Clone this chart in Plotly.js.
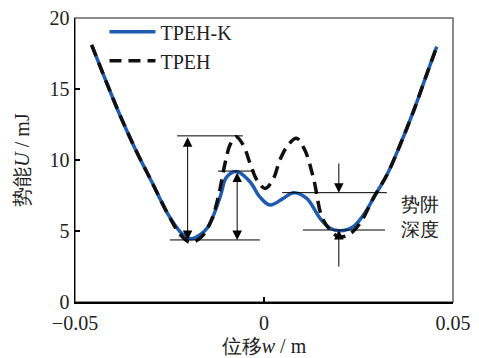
<!DOCTYPE html>
<html>
<head>
<meta charset="utf-8">
<script src="https://cdn.plot.ly/plotly-3.0.1.min.js"></script>
<style>html,body{margin:0;padding:0;background:#fff;}#chart{width:479px;height:358px;}</style>
</head>
<body>
<div id="chart"></div>
<script>
// TPEH-K (solid blue)
const kX = [-0.0456,-0.0421,-0.0385,-0.0341,-0.0297,-0.0253,-0.0218,-0.0193,-0.0170,-0.0148,-0.0116,-0.0099,-0.0071,-0.0037,-0.0011,0.0016,0.0051,0.0078,0.0113,0.0148,0.0175,0.0201,0.0236,0.0272,0.0289,0.0325,0.0360,0.0395,0.0430,0.0457];
const kY = [18.1,15.75,13.4,10.8,8.47,6.13,4.84,4.45,4.72,5.28,7.4,8.8,9.18,8.47,7.4,6.83,7.3,7.7,7.3,5.9,5.19,5.02,5.3,6.48,7.3,8.94,11.06,13.4,16.0,17.98];
// TPEH (dashed black)
const tX = [-0.0456,-0.0421,-0.0385,-0.0341,-0.0297,-0.0253,-0.0220,-0.0195,-0.0165,-0.0139,-0.0121,-0.0103,-0.0090,-0.0074,-0.0055,-0.0037,-0.0019,0.0003,0.0025,0.0042,0.0064,0.0086,0.0108,0.0131,0.0153,0.0175,0.0197,0.0223,0.0254,0.0289,0.0325,0.0360,0.0395,0.0430,0.0457];
const tY = [18.1,15.75,13.4,10.8,8.47,6.13,4.7,4.2,4.6,5.77,7.4,9.77,11.06,11.64,11.06,9.77,8.6,8.0,8.7,10.0,11.06,11.53,10.7,8.7,6.0,5.07,4.6,4.72,5.54,7.3,8.94,11.06,13.4,16.0,17.98];
const seriesNames = ["TPEH-K", "TPEH"];
const xTicks = [-0.05, 0, 0.05];
const xTickText = ['\u22120.05', '0', '0.05'];
const yTicks = [0, 5, 10, 15, 20];

const FONT = "Liberation Serif";

// guide lines (annotation geometry)
const guides = [
  {x0:-0.0230, x1:-0.0056, y:11.7},
  {x0:-0.0249, x1:-0.0011, y:4.37},
  {x0:-0.0122, x1:-0.0024, y:9.22},
  {x0:0.0048, x1:0.0325, y:7.7},
  {x0:0.0103, x1:0.0320, y:5.07}
];
const shapes = guides.map(g => ({type:'line', xref:'x', yref:'y', x0:g.x0, x1:g.x1, y0:g.y, y1:g.y, line:{color:'#000', width:1}}));
shapes.push({type:'rect', xref:'paper', yref:'paper', x0:0, x1:1, y0:0, y1:1, line:{color:'#666', width:1.5}, layer:'below'});

function arrow(x, yTip, yTail, both) {
  return {x:x, y:yTip, ax:x, ay:yTail, xref:'x', yref:'y', axref:'x', ayref:'y',
    text:'', showarrow:true, arrowhead:2, startarrowhead:2, arrowsize:1.9, startarrowsize:1.9, arrowwidth:1, arrowcolor:'#000',
    arrowside: both ? 'end+start' : 'end', standoff:0, startstandoff:0};
}
const annotations = [
  arrow(-0.0202, 4.37, 11.7, true),
  arrow(-0.0071, 4.37, 9.22, true),
  arrow(0.0198, 7.7, 9.86, false),
  arrow(0.0198, 5.07, 2.39, false),
  {x:0.0413, y:6.0, xref:'x', yref:'y', text:'势阱<br>深度', showarrow:false, font:{family:FONT, size:19, color:'#222'}}
];

const data = [
  {x:kX, y:kY, name:seriesNames[0], mode:'lines', line:{color:'#1f5cb0', width:3.5, shape:'spline', smoothing:1}},
  {x:tX, y:tY, name:seriesNames[1], mode:'lines', line:{color:'#111', width:3.5, dash:'12px,7px', shape:'spline', smoothing:1}}
];

const layout = {
  width:479, height:358,
  margin:{l:75, r:26, t:18, b:56},
  paper_bgcolor:'#fff', plot_bgcolor:'#fff',
  font:{family:FONT, size:20, color:'#222'},
  showlegend:true,
  legend:{x:0.078, y:1.02, xanchor:'left', yanchor:'top', bgcolor:'rgba(0,0,0,0)', font:{family:FONT, size:20, color:'#222'}, itemwidth:46, tracegroupgap:0},
  xaxis:{range:[-0.05,0.05], tickvals:xTicks, ticktext:xTickText, ticks:'inside', ticklen:5, tickwidth:1.2, tickcolor:'#000',
    showline:true, linecolor:'#000', linewidth:1.5, mirror:false, showgrid:false, zeroline:false,
    tickfont:{family:FONT, size:20, color:'#222'}, ticklabelstandoff:2,
    title:{text:'位移<i>w</i> / m', font:{family:FONT, size:20, color:'#222'}, standoff:6}, automargin:false},
  yaxis:{range:[0,20], tickvals:yTicks, ticks:'inside', ticklen:5, tickwidth:1.2, tickcolor:'#000',
    showline:true, linecolor:'#000', linewidth:1.5, mirror:false, showgrid:false, zeroline:false,
    tickfont:{family:FONT, size:20, color:'#222'},
    title:{text:'势能<i>U</i> / mJ', font:{family:FONT, size:20, color:'#222'}, standoff:14}, automargin:false},
  shapes:shapes,
  annotations:annotations
};

Plotly.newPlot('chart', data, layout, {displayModeBar:false, staticPlot:true});
</script>
</body>
</html>
